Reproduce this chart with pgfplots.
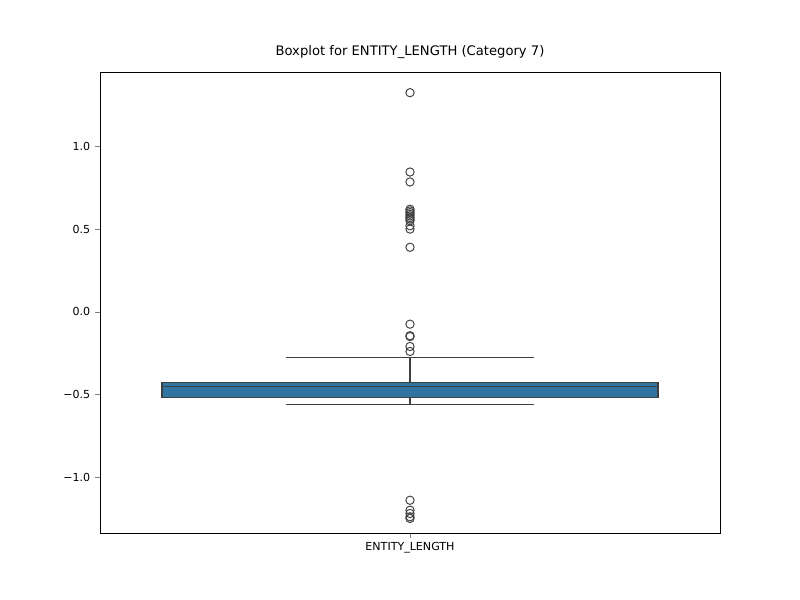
\documentclass[border=0pt]{standalone}
\usepackage{pgfplots}
\pgfplotsset{compat=1.18}
\usepgfplotslibrary{statistics}
\usepackage{fontspec}
\setmainfont{DejaVu Sans}
\definecolor{sbblue}{HTML}{3274A1}
\definecolor{edge}{HTML}{3F3F3F}
\begin{document}
\begin{tikzpicture}
\useasboundingbox (-1in,-0.67in) rectangle (7in,5.33in);
\begin{axis}[at={(0,0)},anchor=south west,scale only axis,width=6.2in,height=4.61in,
  xmin=-0.5,xmax=0.5,ymin=-1.338,ymax=1.45,
  xtick={0},xticklabels={ENTITY\_LENGTH},
  ytick={-1,-0.5,0,0.5,1},
  yticklabels={−1.0,−0.5,0.0,0.5,1.0},
  tick label style={font=\fontsize{8}{10}\selectfont},
  title={Boxplot for ENTITY\_LENGTH (Category 7)},
  title style={font=\fontsize{9.5}{11}\selectfont},
  xtick pos=bottom, ytick pos=left,
  tick align=outside, major tick length=3.5pt, axis line style={black,line width=0.6pt},
  boxplot/draw direction=y]
\addplot+[boxplot prepared={draw position=0,box extend=0.8,whisker extend=0.4,
  lower whisker=-0.56,lower quartile=-0.52,median=-0.45,upper quartile=-0.43,upper whisker=-0.275},
  fill=sbblue,draw=edge,line width=0.8pt,solid,mark=none] coordinates {};
\addplot[only marks,mark=o,mark size=3pt,draw=edge,line width=0.7pt] coordinates {
(0,1.325)(0,0.845)(0,0.785)(0,0.62)(0,0.61)(0,0.60)(0,0.59)(0,0.58)(0,0.57)(0,0.56)(0,0.55)(0,0.52)(0,0.50)(0,0.39)
(0,-0.075)(0,-0.145)(0,-0.15)(0,-0.21)(0,-0.24)
(0,-1.14)(0,-1.20)(0,-1.22)(0,-1.24)(0,-1.25)};
\end{axis}
\end{tikzpicture}
\end{document}
